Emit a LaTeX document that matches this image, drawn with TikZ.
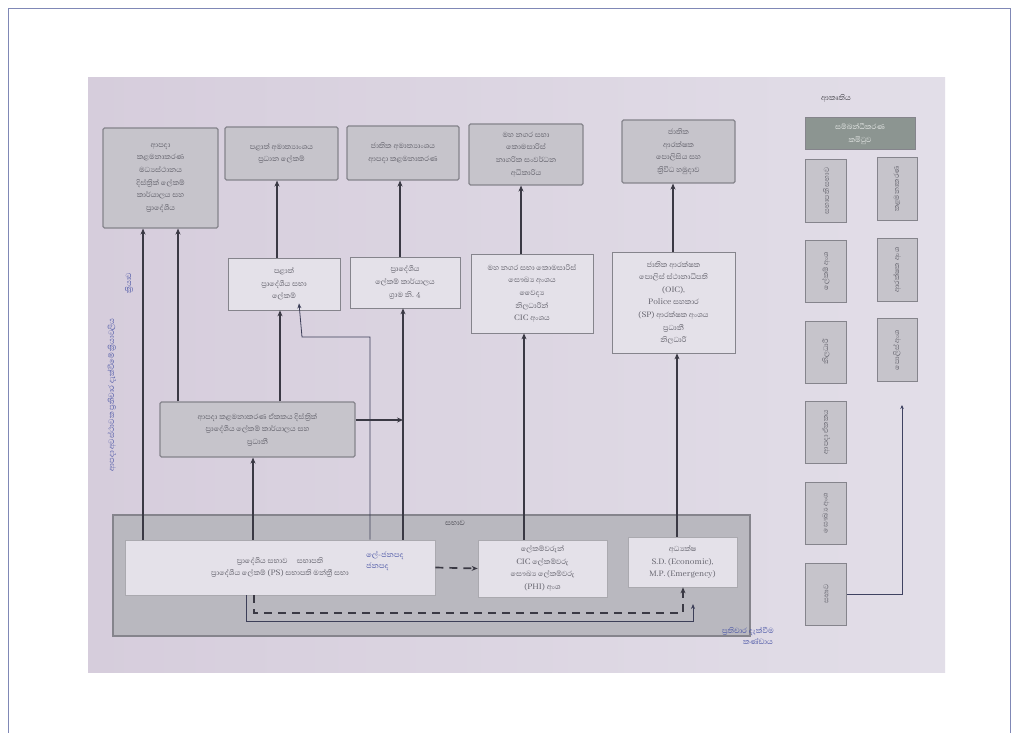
\documentclass[tikz,border=0pt]{standalone}
\usepackage{fontspec}
\newfontfamily\sinfont[Script=Sinhala]{Abhaya Libre}
\usetikzlibrary{arrows.meta,calc}

\definecolor{frameblue}{HTML}{8088B6}
\definecolor{paperL}{HTML}{D6CDDC}
\definecolor{paperR}{HTML}{E2DEE8}
\definecolor{boxgray}{HTML}{C6C4CB}
\definecolor{boxline}{HTML}{85848C}
\definecolor{boxwhite}{HTML}{E4E1E9}
\definecolor{contgray}{HTML}{B9B8BF}
\definecolor{inktext}{HTML}{5F5E68}
\definecolor{arrowink}{HTML}{3A3944}
\definecolor{pen}{HTML}{4B56A6}
\definecolor{headgray}{HTML}{8C9591}

\begin{document}
\begin{tikzpicture}[x=1pt,y=-1pt,
  txt/.style={font=\sinfont\fontsize{9.3}{12.6}\selectfont, text=inktext, align=center, inner sep=2pt},
  graybox/.style={txt, draw=boxline, line width=1.1pt, fill=boxgray, rounded corners=1.5pt},
  whitebox/.style={txt, draw=boxline, line width=0.7pt, fill=boxwhite},
  legbox/.style={txt, draw=boxline, line width=1pt, fill=boxgray, minimum width=41pt, minimum height=62pt},
  arr/.style={draw=arrowink, line width=1.5pt, -{Stealth[length=6pt,width=5pt]}},
  thinarr/.style={draw=arrowink!80!pen, line width=0.8pt, -{Stealth[length=5pt,width=4pt]}},
  dasharr/.style={draw=arrowink, line width=1.7pt, dash pattern=on 8pt off 6pt, -{Stealth[length=6pt,width=5pt]}},
  hand/.style={font=\sinfont\fontsize{9.5}{11}\selectfont\itshape, text=pen, inner sep=1pt}]

\useasboundingbox (0,0) rectangle (1018,733);
\fill[white] (0,0) rectangle (1018,733);

% page frame
\draw[frameblue, line width=0.8pt] (8,733) -- (8,8) -- (1010,8) -- (1010,733);

% sheet of paper
\shade[left color=paperL, right color=paperR] (88,78) rectangle (945,672);

% top row
\node[graybox, minimum width=115pt, minimum height=100pt] (b1) at (160.5,178)
  {ආපදා\\කළමනාකරණ\\මධ්‍යස්ථානය\\දිස්ත්‍රික් ලේකම්\\කාර්යාලය සහ\\ප්‍රාදේශීය};
\node[graybox, minimum width=113pt, minimum height=53pt] (b2) at (281.5,153.5)
  {පළාත් අමාත්‍යාංශය\\ප්‍රධාන ලේකම්};
\node[graybox, minimum width=112pt, minimum height=54pt] (b3) at (403,153)
  {ජාතික අමාත්‍යාංශය\\ආපදා කළමනාකරණ};
\node[graybox, minimum width=114pt, minimum height=61pt] (b4) at (526,154.5)
  {මහ නගර සභා\\කොමසාරිස්\\නාගරික සංවර්ධන\\අධිකාරිය};
\node[graybox, minimum width=113pt, minimum height=63pt] (b5) at (678.5,151.5)
  {ජාතික\\ආරක්ෂක\\පොලිසිය සහ\\ත්‍රිවිධ හමුදාව};

% second row
\node[whitebox, minimum width=112pt, minimum height=52pt] (b6) at (284,284)
  {පළාත්\\ප්‍රාදේශීය සභා\\ලේකම්};
\node[whitebox, minimum width=110pt, minimum height=51pt] (b7) at (405,282.5)
  {ප්‍රාදේශීය\\ලේකම් කාර්යාලය\\ග්‍රාම නි. 4};
\node[whitebox, minimum width=122pt, minimum height=79pt] (b8) at (532,293.5)
  {මහ නගර සභා කොමසාරිස්\\සෞඛ්‍ය අංශය\\වෛද්‍ය\\නිලධාරීන්\\CIC අංශය};
\node[whitebox, minimum width=123pt, minimum height=101pt] (b9) at (673.5,302.5)
  {ජාතික ආරක්ෂක\\පොලිස් ස්ථානාධිපති\\(OIC),\\Police සහකාර\\(SP) ආරක්ෂක අංශය\\ප්‍රධානී\\නිලධාරී};

% coordinating unit
\node[graybox, minimum width=195pt, minimum height=55pt] (b10) at (257.5,429.5)
  {ආපදා කළමනාකරණ ඒකකය දිස්ත්‍රික්\\ප්‍රාදේශීය ලේකම් කාර්යාලය සහ\\ප්‍රධානී};

% council block
\node[draw=boxline, line width=1.1pt, fill=contgray, minimum width=637pt, minimum height=121pt] (cont) at (431.5,575.5) {};
\node[txt, text=inktext!80!black] (contlbl) at (455,523) {සභාව};
\node[whitebox, draw=boxline!70, minimum width=310pt, minimum height=55pt] (b11) at (280,567.5)
  {ප්‍රාදේශීය සභාව\quad සභාපති\hspace{60pt}\\ප්‍රාදේශීය ලේකම් (PS) සභාපති මන්ත්‍රී සභා\hspace{40pt}};
\node[hand, align=left] (note1) at (385,561) {ලේ-ජනපද\\ජනපද};
\node[whitebox, draw=boxline!70, minimum width=129pt, minimum height=57pt] (b12) at (542.5,568.5)
  {ලේකම්වරුන්\\CIC ලේකම්වරු\\සෞඛ්‍ය ලේකම්වරු\\(PHI) අංශ};
\node[whitebox, draw=boxline!70, minimum width=109pt, minimum height=50pt] (b13) at (682.5,562)
  {අධ්‍යක්ෂ\\S.D. (Economic),\\M.P. (Emergency)};

% vertical connectors
\draw[arr] (b11.north -| 143,0) -- (b1.south -| 143,0);
\draw[arr] (b10.north -| 178,0) -- (b1.south -| 178,0);
\draw[arr] (b11.north -| 253,0) -- (b10.south -| 253,0);
\draw[arr] (b10.north -| 280,0) -- (b6.south -| 280,0);
\draw[arr] (b6.north -| 277,0) -- (b2.south -| 277,0);
\draw[thinarr] (b11.north -| 370,0) -- (370,337) -- (302,337) -- ([yshift=7pt]b6.south -| 299,0);
\coordinate (j1) at (403,420);
\draw[arr] (b11.north -| 403,0) -- (b7.south -| 403,0);
\draw[arr] (b7.north -| 400,0) -- (b3.south -| 400,0);
\draw[arr] (b10.east |- j1) -- (j1);
\draw[arr] (b12.north -| 524,0) -- (b8.south -| 524,0);
\draw[arr] (b8.north -| 521,0) -- (b4.south -| 521,0);
\draw[arr] (b13.north -| 677,0) -- (b9.south -| 677,0);
\draw[arr] (b9.north -| 673,0) -- (b5.south -| 673,0);

% dashed links
\draw[dasharr] (b11.east) -- (b12.west);
\draw[dasharr] (b11.south -| 254,0) -- (254,613) -- (683,613) -- (b13.south -| 683,0);
\coordinate (j2) at (693,604);
\draw[thinarr] (b11.south -| 246,0) -- (246,621) -- (693,621) -- (j2);

% legend
\node[txt, text=inktext!70!black, font=\sinfont\fontsize{9.5}{11}\selectfont] (legtitle) at (836,98) {ආකෘතිය};
\node[txt, draw=boxline, line width=1pt, fill=headgray, text=white!80!headgray, minimum width=110pt, minimum height=32pt] (leghead) at (860,134)
  {සම්බන්ධීකරණ\\කමිටුව};
\foreach \n/\y/\t in {1/191/සභාපති සභාව, 2/271/ලේකම් අංශ, 3/352/නිලධාරී, 4/432/ආපදා ඒකකය, 5/513/සෞඛ්‍ය අංශ, 6/594/සභාව}{
  \node[legbox] (L\n) at (826,\y) {\rotatebox{90}{\fontsize{9}{10}\selectfont\t}};
}
\foreach \n/\y/\t in {1/189/කළමනාකරණ, 2/270/ආරක්ෂක අංශ, 3/350/පොලිස් අංශ}{
  \node[legbox, minimum width=40pt, minimum height=63pt] (R\n) at (897,\y) {\rotatebox{90}{\fontsize{9}{10}\selectfont\t}};
}
\coordinate (j3) at (902,405);
\draw[draw=arrowink!70!pen, line width=0.8pt, -{Stealth[length=4pt,width=3.5pt]}] (L6.east) -- (L6.east -| j3) -- (j3);

% handwritten notes
\node[hand, rotate=90, anchor=center] (note2) at (112,395) {ආපදා අවස්ථාවක ප්‍රතිචාර දැක්වීමේ ක්‍රියාවලිය};
\node[hand, rotate=90, anchor=center] (note3) at (129,283) {ක්‍රියාව};
\node[hand, align=center] (note4) at (748,636) {ප්‍රතිචාර දැක්වීම\\\hspace{20pt}කණ්ඩාය};

\end{tikzpicture}
\end{document}
